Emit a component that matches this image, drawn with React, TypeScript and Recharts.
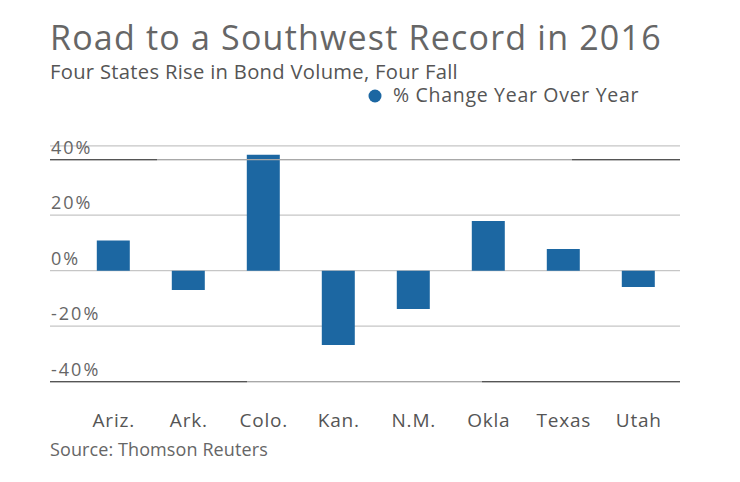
import React from 'react';
import { BarChart, Bar, XAxis, YAxis, CartesianGrid, ReferenceLine } from 'recharts';

const states = ['Ariz.', 'Ark.', 'Colo.', 'Kan.', 'N.M.', 'Okla', 'Texas', 'Utah'];
const changes = [10.9, -7.0, 41.8, -26.8, -13.8, 17.9, 7.8, -5.9];
const yTicks = [-40, -20, 0, 20, 40];
const yDomain = [-40, 45];

const data = states.map((s, i) => ({ state: s, change: changes[i] }));

const BAR = '#1c67a2';
const FONT = '"Open Sans", sans-serif';

const YTick = (props: any) => {
  const { y, payload } = props;
  return (
    <text x={51} y={y - 6} textAnchor="start" fontSize={18} letterSpacing={2} fill="#666" fontFamily={FONT}>
      {`${payload.value}%`}
    </text>
  );
};

const XTick = (props: any) => {
  const { x, payload } = props;
  return (
    <text x={x + 0.5} y={427} textAnchor="middle" fontSize={19} letterSpacing={0.8} fill="#555" fontFamily={FONT}>
      {payload.value}
    </text>
  );
};

const edgeLine = (dark: Array<[number, number]>) => (props: any) => {
  const { x1, y1, x2 } = props;
  return (
    <g>
      <line x1={x1} x2={x2} y1={y1} y2={y1} stroke="#a8a8a8" strokeWidth={1.2} />
      {dark.map(([a, b], i) => (
        <line key={i} x1={x1 + a} x2={x1 + b} y1={y1} y2={y1} stroke="#555" strokeWidth={1.2} />
      ))}
    </g>
  );
};

export default function App() {
  return (
    <div style={{ position: 'absolute', left: 0, top: 0, width: 740, height: 482, background: '#fff' }}>
      <BarChart
        width={740}
        height={482}
        data={data}
        margin={{ top: 145.8, right: 60, bottom: 60.3, left: 0 }}
      >
        <CartesianGrid vertical={false} stroke="#c6c6c6" strokeWidth={1.2} />
        <ReferenceLine y={40} shape={edgeLine([[0, 107], [522, 630]])} />
        <ReferenceLine y={-40} shape={edgeLine([[0, 197], [432, 630]])} />
        <XAxis
          dataKey="state"
          axisLine={false}
          tickLine={false}
          tick={<XTick />}
          height={40}
          padding={{ left: 25.8, right: 4.2 }}
          interval={0}
        />
        <YAxis
          domain={yDomain}
          ticks={yTicks}
          axisLine={false}
          tickLine={false}
          tick={<YTick />}
          width={50}
        />
        <Bar dataKey="change" fill={BAR} barSize={33} isAnimationActive={false} />
      </BarChart>
      <svg
        width={740}
        height={482}
        style={{ position: 'absolute', left: 0, top: 0, pointerEvents: 'none' }}
      >
        <text x={50} y={50} fontSize={34} letterSpacing={1.2} fill="#666" fontFamily={FONT}>
          Road to a Southwest Record in 2016
        </text>
        <text x={50} y={78.5} fontSize={20.2} letterSpacing={0.3} fill="#555" fontFamily={FONT}>
          Four States Rise in Bond Volume, Four Fall
        </text>
        <circle cx={375} cy={96} r={6.5} fill={BAR} />
        <text x={393} y={102} fontSize={19.5} letterSpacing={0.7} fill="#555" fontFamily={FONT}>
          % Change Year Over Year
        </text>
        <text x={50} y={456} fontSize={18} letterSpacing={0.1} fill="#666" fontFamily={FONT}>
          Source: Thomson Reuters
        </text>
      </svg>
    </div>
  );
}
